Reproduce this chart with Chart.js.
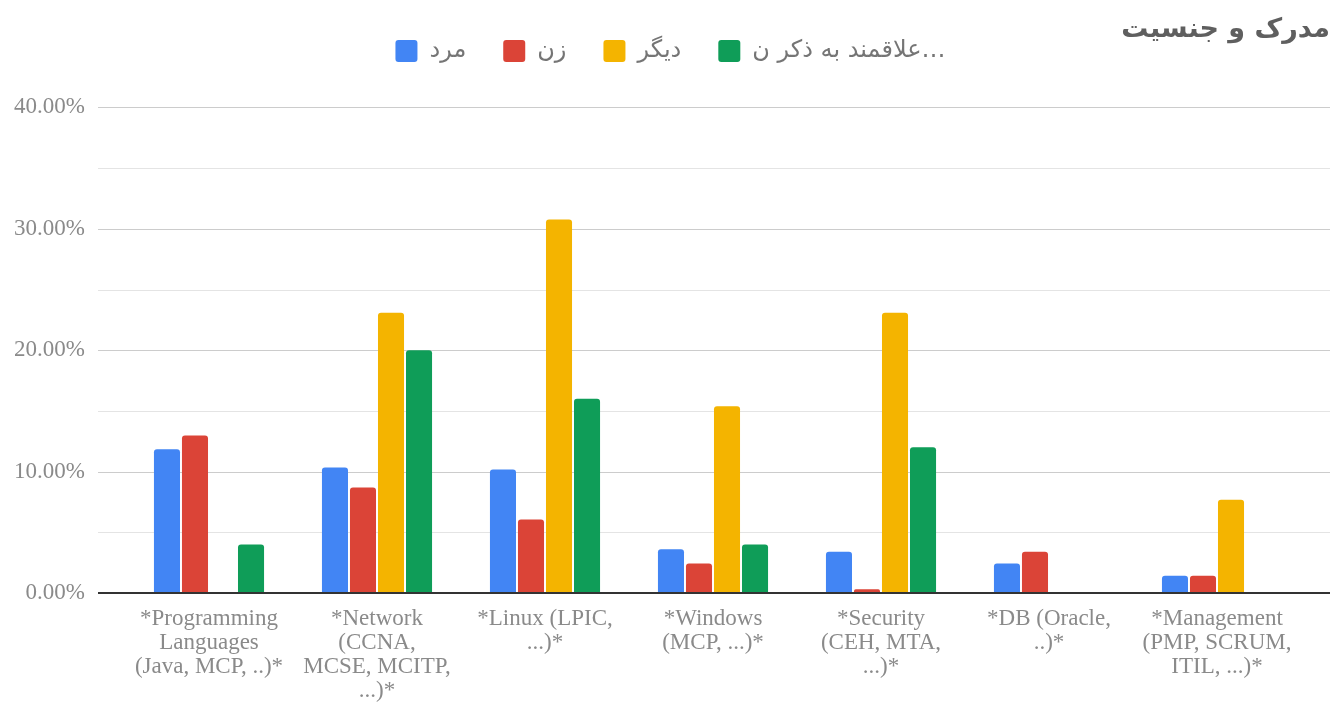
<!DOCTYPE html>
<html>
<head>
<meta charset="utf-8">
<script src="https://cdn.jsdelivr.net/npm/chart.js@4/dist/chart.umd.min.js"></script>
<style>
  html, body { margin: 0; padding: 0; background: #fff; }
  #wrap { width: 1341px; height: 702px; position: relative; }
</style>
</head>
<body>
<div id="wrap"><canvas id="chart"></canvas></div>
<script>
// categories (x labels, already split in lines)
const categories = [
    ['*Programming', 'Languages', '(Java, MCP, ..)*'],
    ['*Network', '(CCNA,', 'MCSE, MCITP,', '...)*'],
    ['*Linux (LPIC,', '...)*'],
    ['*Windows', '(MCP, ...)*'],
    ['*Security', '(CEH, MTA,', '...)*'],
    ['*DB (Oracle,', '..)*'],
    ['*Management', '(PMP, SCRUM,', 'ITIL, ...)*']
];

const seriesNames = ['مرد', 'زن', 'دیگر', 'علاقمند به ذکر ن…'];
const seriesColors = ['#4285F4', '#DB4437', '#F4B400', '#0F9D58'];

// percentages per category
const maleValues = [11.85, 10.34, 10.18, 3.6, 3.4, 2.44, 1.43];
const femaleValues = [12.98, 8.7, 6.06, 2.44, 0.3, 3.4, 1.43];
const otherValues = [0, 23.08, 30.77, 15.38, 23.08, 0, 7.69];
const noAnswerValues = [4, 20, 16, 4, 12, 0, 0];

const yMax = 40;
const yStep = 5;

const allSeries = [maleValues, femaleValues, otherValues, noAnswerValues];

// grid lines reach a bit past the bar area on both sides, like the original
const wideGrid = {
    id: 'wideGrid',
    beforeDatasetsDraw(chart) {
        const ctx = chart.ctx;
        const y = chart.scales.y;
        const left = chart.chartArea.left - 27;
        const right = chart.chartArea.right + 29;
        ctx.save();
        y.ticks.forEach(t => {
            if (t.value === 0) return;
            const py = Math.round(y.getPixelForValue(t.value)) + 0.5;
            ctx.strokeStyle = (t.value % 10 === 0) ? '#cccccc' : '#e4e4e4';
            ctx.lineWidth = 1;
            ctx.beginPath();
            ctx.moveTo(left, py);
            ctx.lineTo(right, py);
            ctx.stroke();
        });
        ctx.restore();
    },
    afterDatasetsDraw(chart) {
        const ctx = chart.ctx;
        const py = chart.scales.y.getPixelForValue(0);
        ctx.save();
        ctx.strokeStyle = '#333333';
        ctx.lineWidth = 2;
        ctx.beginPath();
        ctx.moveTo(chart.chartArea.left - 27, py);
        ctx.lineTo(chart.chartArea.right + 29, py);
        ctx.stroke();
        ctx.restore();
    }
};

new Chart(document.getElementById('chart'), {
    type: 'bar',
    data: {
        labels: categories,
        datasets: allSeries.map((vals, i) => ({
            label: seriesNames[i],
            data: vals,
            backgroundColor: seriesColors[i],
            borderWidth: 0,
            borderRadius: 3,
            categoryPercentage: 0.667,
            barPercentage: 0.93
        }))
    },
    options: {
        responsive: true,
        maintainAspectRatio: false,
        animation: false,
        layout: { padding: { top: 2, right: 11, left: 11, bottom: 0 } },
        plugins: {
            // title sits under the legend box in the layout, pulled up to the top row
            title: {
                display: true,
                text: 'مدرک و جنسیت',
                align: 'end',
                weight: 500,
                color: '#5f5f5f',
                font: { family: 'DejaVu Sans', size: 27, weight: 'bold' },
                padding: { top: -59, bottom: 61 }
            },
            legend: {
                display: true,
                labels: {
                    color: '#757575',
                    font: { family: 'DejaVu Sans', size: 24 },
                    boxWidth: 22,
                    boxHeight: 22,
                    useBorderRadius: true,
                    borderRadius: 3,
                    padding: 37
                }
            },
            tooltip: { enabled: false }
        },
        scales: {
            x: {
                grid: { display: false },
                border: { display: false },
                afterFit(scale) { scale.height = 109; },
                ticks: {
                    color: '#8a8a8a',
                    padding: 6,
                    maxRotation: 0,
                    autoSkip: false,
                    font: { family: 'Liberation Serif', size: 23, lineHeight: 1.04 }
                }
            },
            y: {
                min: 0,
                max: yMax,
                grid: { display: false, drawTicks: false },
                border: { display: false },
                afterFit(scale) { scale.width = 114; },
                ticks: {
                    stepSize: yStep,
                    padding: 40,
                    color: '#8a8a8a',
                    font: { family: 'Liberation Serif', size: 23 },
                    callback: v => (v % 10 === 0) ? v.toFixed(2) + '%' : ''
                }
            },
            // empty right gutter so the bars stop where the original ones do
            yRight: {
                position: 'right',
                grid: { display: false },
                border: { display: false },
                ticks: { display: false },
                afterFit(scale) { scale.width = 29; }
            }
        }
    },
    plugins: [wideGrid]
});
</script>
</body>
</html>
